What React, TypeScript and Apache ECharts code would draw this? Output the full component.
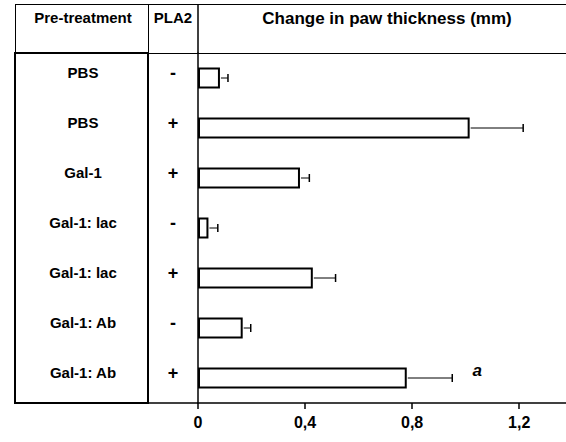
import React, { useEffect, useRef } from "react";
import * as echarts from "echarts";

const preTreatment = ["PBS", "PBS", "Gal-1", "Gal-1: lac", "Gal-1: lac", "Gal-1: Ab", "Gal-1: Ab"];
const pla2 = ["-", "+", "+", "-", "+", "-", "+"];
const values = [0.082, 1.015, 0.381, 0.039, 0.429, 0.167, 0.78];
const errors = [0.03, 0.2, 0.035, 0.035, 0.085, 0.03, 0.17];
const marks = ["", "", "", "", "", "", "a"];
const xTicks = [0, 0.4, 0.8, 1.2];

const FONT = "'Liberation Sans', Arial, Helvetica, sans-serif";

export default function App() {
  const ref = useRef<HTMLDivElement>(null);
  useEffect(() => {
    if (!ref.current) return;
    const chart = echarts.init(ref.current, undefined, { renderer: "svg" });
    const line = (x1: number, y1: number, x2: number, y2: number, w = 1) => ({
      type: "line",
      shape: { x1, y1, x2, y2 },
      style: { stroke: "#000", lineWidth: w },
      silent: true,
    });
    chart.setOption({
      animation: false,
      backgroundColor: "#fff",
      textStyle: { fontFamily: FONT },
      grid: { left: 198, right: 0, top: 53, bottom: 39, containLabel: false },
      xAxis: {
        type: "value",
        min: 0,
        max: 1.375,
        interval: 0.4,
        splitLine: { show: false },
        axisLine: { show: true, lineStyle: { color: "#000", width: 1.5 } },
        axisTick: { show: true, length: 6, lineStyle: { color: "#000", width: 1.5 } },
        axisLabel: {
          color: "#000",
          fontFamily: FONT,
          fontWeight: "bold",
          fontSize: 16,
          margin: 11,
          showMaxLabel: false,
          formatter: (v: number) => {
            const t = xTicks.find((k) => Math.abs(k - v) < 1e-6);
            if (t === undefined) return "";
            return t === 0 ? "0" : t.toFixed(1).replace(".", ",");
          },
        },
      },
      yAxis: [
        {
          type: "category",
          data: preTreatment,
          inverse: true,
          axisLine: { show: true, lineStyle: { color: "#000", width: 1.5 } },
          axisTick: { show: false },
          axisLabel: {
            color: "#000",
            fontFamily: FONT,
            fontWeight: "bold",
            fontSize: 15,
            align: "center",
            margin: 115,
            verticalAlign: "bottom",
            lineHeight: 12,
          },
        },
        {
          type: "category",
          data: preTreatment,
          inverse: true,
          position: "left",
          axisLine: { show: false },
          axisTick: { show: false },
          axisLabel: {
            color: "#000",
            fontFamily: FONT,
            fontWeight: "bold",
            fontSize: 18,
            align: "center",
            margin: 25,
            formatter: (_v: string, i: number) => pla2[i],
            verticalAlign: "bottom",
            lineHeight: 10,
          },
        },
      ],
      series: [
        {
          type: "bar",
          yAxisIndex: 0,
          data: values,
          barWidth: 21,
          itemStyle: { color: "#fff", borderColor: "#000", borderWidth: 2 },
          z: 3,
        },
        {
          type: "custom",
          yAxisIndex: 0,
          data: values.map((v, i) => [v, i, errors[i]]),
          z: 4,
          renderItem: (params: any, api: any) => {
            const v = api.value(0);
            const idx = api.value(1);
            const e = api.value(2);
            const p0 = api.coord([v, idx]);
            const p1 = api.coord([v + e, idx]);
            const children: any[] = [
              { type: "line", shape: { x1: p0[0] + 1, y1: p0[1], x2: p1[0], y2: p1[1] }, style: { stroke: "#000", lineWidth: 1 } },
              { type: "line", shape: { x1: p1[0], y1: p1[1] - 4, x2: p1[0], y2: p1[1] + 4 }, style: { stroke: "#000", lineWidth: 1.5 } },
            ];
            const m = marks[params.dataIndex];
            if (m) {
              children.push({
                type: "text",
                x: p1[0] + 25,
                y: p1[1] - 8,
                style: {
                  text: m,
                  fill: "#000",
                  font: `italic bold 17px ${FONT}`,
                  align: "center",
                  verticalAlign: "middle",
                },
              });
            }
            return { type: "group", children };
          },
        },
      ],
      graphic: [
        line(15, 4.5, 566, 4.5),
        line(148, 53.5, 566, 53.5),
        line(15.5, 4, 15.5, 53),
        line(148.5, 4, 148.5, 403),
        line(198, 4, 198, 53, 1.5),
        line(148, 403, 198, 403, 1.5),
        {
          type: "rect",
          shape: { x: 15, y: 53, width: 133, height: 350 },
          style: { fill: "none", stroke: "#000", lineWidth: 2 },
          silent: true,
        },
        {
          type: "text",
          x: 83,
          y: 17,
          style: { text: "Pre-treatment", fill: "#000", font: `bold 15px ${FONT}`, align: "center", verticalAlign: "middle" },
        },
        {
          type: "text",
          x: 173,
          y: 17,
          style: { text: "PLA2", fill: "#000", font: `bold 15px ${FONT}`, align: "center", verticalAlign: "middle" },
        },
        {
          type: "text",
          x: 387,
          y: 18,
          style: { text: "Change in paw thickness (mm)", fill: "#000", font: `bold 17px ${FONT}`, align: "center", verticalAlign: "middle" },
        },
      ],
    });
    return () => chart.dispose();
  }, []);
  return (
    <div
      ref={ref}
      style={{ position: "fixed", left: 0, top: 0, width: 566, height: 442, background: "#fff" }}
    />
  );
}
